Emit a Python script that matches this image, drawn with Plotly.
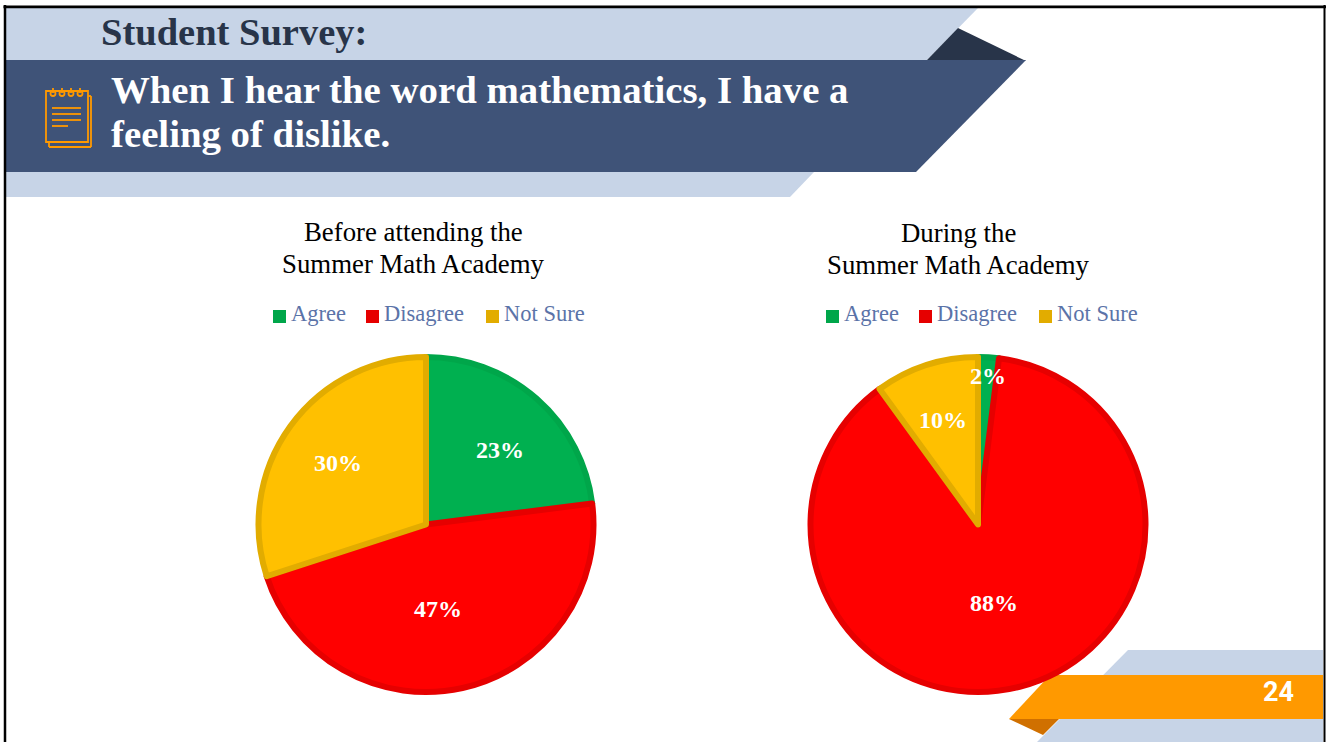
import plotly.graph_objects as go

W, H = 1326, 742

labels = ["Agree", "Disagree", "Not Sure"]
before_values = [23, 47, 30]
during_values = [2, 88, 10]
fill_colors = ["#00B050", "#FF0000", "#FFC000"]
edge_colors = ["#00A64A", "#E60000", "#E2AC00"]

before_title = ["Before attending the", "Summer Math Academy"]
during_title = ["During the", "Summer Math Academy"]
heading = "Student Survey:"
question = ["When I hear the word mathematics, I have a", "feeling of dislike."]
page_number = "24"

SERIF = "Liberation Serif"
LIGHT, NAVY, INK, ORANGE, RUST = "#C7D4E7", "#3F5378", "#283449", "#FF9900", "#D07000"
LEGEND_INK = "#5B73A8"


def px(x):
    return x / W


def py(y):
    return 1 - y / H


def polygon(points, color):
    path = "M" + "L".join(f"{px(x)},{py(y)}" for x, y in points) + "Z"
    return dict(type="path", xref="paper", yref="paper", path=path,
                fillcolor=color, line_width=0, layer="below")


def stroke(x0, y0, x1, y1, kind="line", width=1.8, color=ORANGE):
    return dict(type=kind, xref="paper", yref="paper", x0=px(x0), x1=px(x1),
                y0=py(y0), y1=py(y1), line=dict(color=color, width=width), layer="below")


def swatch(x, y, color):
    return dict(type="rect", xref="paper", yref="paper", x0=px(x), x1=px(x + 13),
                y0=py(y + 13), y1=py(y), fillcolor=color, line_width=0, layer="below")


def pie_trace(values, cx, cy, r):
    return go.Pie(
        labels=labels, values=values, sort=False, direction="clockwise", rotation=0,
        textinfo="none", hoverinfo="label+percent",
        domain=dict(x=[px(cx - r), px(cx + r)], y=[py(cy + r), py(cy - r)]),
        marker=dict(colors=fill_colors, line=dict(color=edge_colors, width=6)),
    )


def text(x, y, s, size, color, bold=False, family=SERIF, anchor="center"):
    return dict(xref="paper", yref="paper", x=px(x), y=py(y), text=f"<b>{s}</b>" if bold else s,
                showarrow=False, xanchor=anchor, yanchor="middle",
                font=dict(family=family, size=size, color=color))


shapes = [
    # header ribbon
    polygon([(6, 8), (978, 8), (927, 60), (6, 60)], LIGHT),
    polygon([(6, 172), (814, 172), (790, 197), (6, 197)], LIGHT),
    polygon([(927, 60), (958, 28), (1026, 61)], INK),
    polygon([(6, 60), (1026, 60), (916, 172), (6, 172)], NAVY),
    # footer ribbon
    polygon([(1128, 650), (1323, 650), (1323, 742), (1037, 742)], LIGHT),
    polygon([(1009, 719), (1059, 719), (1043, 735)], RUST),
    polygon([(1050, 675), (1323, 675), (1323, 719), (1009, 719)], ORANGE),
    # slide frame
    stroke(3.5, 6.8, 1326, 6.8, width=2.8, color="#000000"),
    stroke(5, 5, 5, 742, width=2.5, color="#000000"),
    stroke(1324.5, 5, 1324.5, 742, width=2, color="#000000"),
    # notepad icon
    stroke(46, 91, 88, 142, "rect"),
    stroke(91, 96, 91, 147), stroke(49, 147, 91, 147), stroke(49, 143, 49, 147), stroke(88, 96, 91, 96),
    stroke(52, 108, 81, 108), stroke(52, 114, 81, 114), stroke(52, 120, 81, 120), stroke(52, 126, 68, 126),
]
for ring_x in (53, 62, 71, 80):
    shapes.append(stroke(ring_x - 2.5, 91, ring_x + 2.5, 96, "circle"))
    shapes.append(stroke(ring_x, 88, ring_x, 93))

annotations = [
    text(99, 32, heading, 38.5, INK, bold=True, anchor="left"),
    text(109, 89.5, question[0], 38.8, "#FFFFFF", bold=True, anchor="left"),
    text(109, 133.5, question[1], 38.8, "#FFFFFF", bold=True, anchor="left"),
    text(413, 232, before_title[0], 26.8, "#000000"),
    text(413, 264, before_title[1], 26.8, "#000000"),
    text(958, 233, during_title[0], 26.8, "#000000"),
    text(958, 265, during_title[1], 26.8, "#000000"),
    text(1278, 692, page_number, 27, "#FFFFFF", bold=True, family="Roboto"),
]

# Value labels placed by hand inside each slice
before_spots = [(499.5, 450), (438, 609), (337.5, 463)]
during_spots = [(988, 376), (994, 603), (942.5, 420)]
for values, spots in ((before_values, before_spots), (during_values, during_spots)):
    for value, (x, y) in zip(values, spots):
        annotations.append(text(x, y, f"{value}%", 24, "#FFFFFF", bold=True))

# One key above each pie, drawn with swatches and text
legend_swatch_x = {"before": [273, 366, 486], "during": [826, 919, 1039]}
for row in legend_swatch_x.values():
    for label, color, x in zip(labels, edge_colors, row):
        shapes.append(swatch(x, 310, color))
        annotations.append(text(x + 16, 314, label, 22.5, LEGEND_INK, anchor="left"))

fig = go.Figure([
    pie_trace(before_values, 426, 524.5, 167.5),
    pie_trace(during_values, 978, 524.5, 167.5),
])
fig.update_layout(
    width=W, height=H, margin=dict(l=0, r=0, t=0, b=0), autosize=False,
    paper_bgcolor="#FFFFFF", plot_bgcolor="#FFFFFF", showlegend=False,
    shapes=shapes, annotations=annotations,
)
fig.write_html("out.html", config=dict(displayModeBar=False))
